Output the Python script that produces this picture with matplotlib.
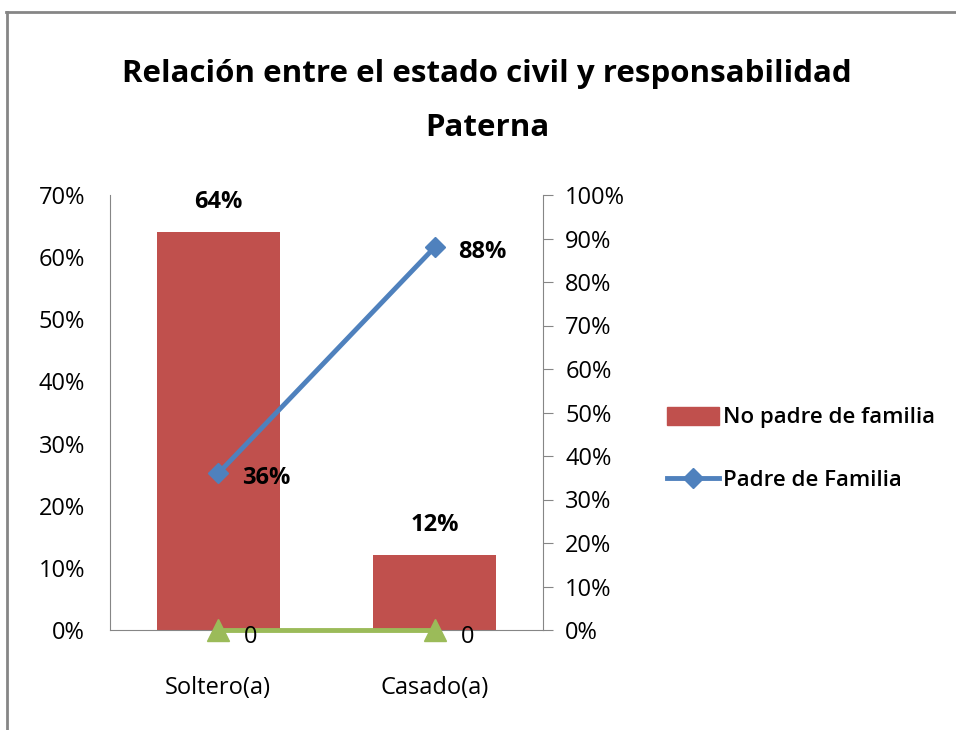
import matplotlib
matplotlib.use("Agg")
import matplotlib.pyplot as plt
from matplotlib.lines import Line2D
from matplotlib.patches import Patch

plt.rcParams['font.family'] = ['Open Sans', 'DejaVu Sans']

categories = ["Soltero(a)", "Casado(a)"]
no_padre = [0.64, 0.12]
padre = [0.36, 0.88]
otros = [0, 0]

red = "#C0504D"
blue = "#4F81BD"
green = "#9BBB59"
gray = "#868686"

fig = plt.figure(figsize=(9.56, 7.30), dpi=100)
ax = fig.add_axes([110 / 956, 1 - 630 / 730, 433 / 956, 435 / 730])
x = list(range(len(categories)))

bars = ax.bar(x, no_padre, width=0.57, color=red, zorder=2)
ax.set_xlim(-0.5, 1.5)
ax.set_ylim(0, 0.7)
ax.set_yticks([i / 10 for i in range(8)])
ax.set_yticklabels([f"{i * 10}%" for i in range(8)])
ax.set_xticks(x)
ax.set_xticklabels(categories)
ax.tick_params(axis='y', length=0, pad=18, labelsize=17)
ax.tick_params(axis='x', length=0, pad=33, labelsize=17)
for s in ['top', 'right']:
    ax.spines[s].set_visible(False)
for s in ['left', 'bottom']:
    ax.spines[s].set_color(gray)
for b, v in zip(bars, no_padre):
    ax.text(b.get_x() + b.get_width() / 2, v + 0.03, f"{round(v * 100)}%",
            ha='center', va='bottom', fontsize=17, fontweight='bold')

ax2 = ax.twinx()
ax2.set_ylim(0, 1)
ax2.set_yticks([i / 10 for i in range(11)])
ax2.set_yticklabels([f"{i * 10}%" for i in range(11)])
ax2.tick_params(axis='y', length=7, pad=9, labelsize=17, color=gray)
for s in ['top', 'left', 'bottom']:
    ax2.spines[s].set_visible(False)
ax2.spines['right'].set_color(gray)

ax2.plot(x, padre, color=blue, lw=3.5, marker='D', ms=10, zorder=3, clip_on=False)
for xi, v in zip(x, padre):
    ax2.text(xi + 0.11, v - 0.01, f"{round(v * 100)}%", ha='left', va='center',
             fontsize=17, fontweight='bold')
ax2.plot(x, otros, color=green, lw=3.5, marker='^', ms=16, zorder=3, clip_on=False)
for xi, v in zip(x, otros):
    ax2.text(xi + 0.12, v - 0.015, f"{v}", ha='left', va='center', fontsize=17)

handles = [Patch(facecolor=red, edgecolor=red),
           Line2D([0], [0], color=blue, lw=3.5, marker='D', ms=10)]
fig.legend(handles, ["No padre de familia", "Padre de Familia"],
           loc='center left', bbox_to_anchor=(667 / 956, 1 - 449 / 730),
           frameon=False, handlelength=2.35, handleheight=0.9, handletextpad=0.15,
           borderpad=0, borderaxespad=0,
           labelspacing=1.85, prop={'weight': 'semibold', 'size': 16})

fig.text(487 / 956, 1 - 74 / 730, "Relación entre el estado civil y responsabilidad",
         ha='center', va='center', fontsize=22.5, fontweight='bold')
fig.text(487 / 956, 1 - 128 / 730, "Paterna",
         ha='center', va='center', fontsize=22.5, fontweight='bold')

fig.add_artist(Line2D([6 / 956, 1], [1 - 12 / 730] * 2, color=gray, lw=2))
fig.add_artist(Line2D([7 / 956] * 2, [0, 1 - 12 / 730], color=gray, lw=2))

fig.savefig("out.png", dpi=100)
